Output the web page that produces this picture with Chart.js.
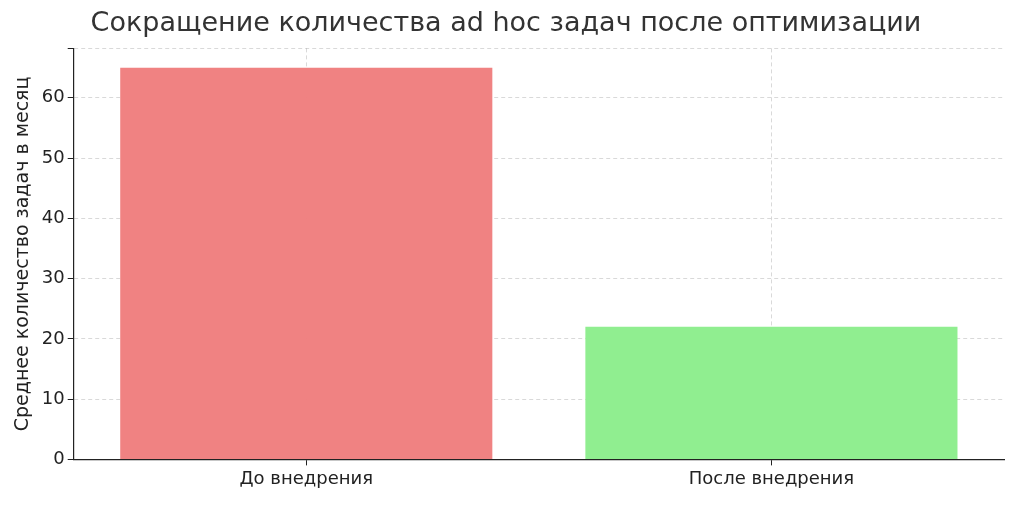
<!DOCTYPE html>
<html>
<head>
<meta charset="utf-8">
<script src="https://cdn.jsdelivr.net/npm/chart.js@4"></script>
<style>
	body { margin: 0; background: #fff; }
	canvas { display: block; }
</style>
</head>
<body>
<canvas id="chart" width="1024" height="509"></canvas>
<script>
var categories = ["До внедрения", "После внедрения"];
var task_values = [65, 22];
var bar_colors = ["rgba(240,128,128,0.98)", "rgba(144,238,144,1)"];

var grid_style = {
	color: "rgba(0,0,0,0.15)",
	lineWidth: 1,
	tickColor: "#222",
	tickLength: 6
};

new Chart(document.getElementById("chart").getContext("2d"), {
	type: "bar",
	data: {
		labels: categories,
		datasets: [{
			data: task_values,
			backgroundColor: bar_colors,
			barPercentage: 0.8,
			categoryPercentage: 1
		}]
	},
	options: {
		responsive: false,
		animation: false,
		layout: { padding: { top: 0, right: 20, left: 8, bottom: 16 } },
		plugins: {
			legend: { display: false },
			tooltip: { enabled: false },
			title: {
				display: true,
				text: "Сокращение количества ad hoc задач после оптимизации",
				color: "#333",
				font: { family: "DejaVu Sans", size: 27, weight: "normal" },
				padding: { top: 8, bottom: 8 }
			}
		},
		scales: {
			x: {
				offset: true,
				grid: Object.assign({ offset: false }, grid_style),
				border: { display: true, color: "#222", dash: [4, 3], width: 1.2 },
				ticks: { color: "#222", font: { family: "DejaVu Sans", size: 18 } }
			},
			y: {
				min: 0,
				max: 68.2,
				grid: grid_style,
				border: { display: true, color: "#222", dash: [4, 3], width: 1.2 },
				ticks: {
					stepSize: 10,
					color: "#222",
					font: { family: "DejaVu Sans", size: 18 },
					callback: function (v) { return v % 10 === 0 ? v : ""; }
				},
				title: {
					display: true,
					text: "Среднее количество задач в месяц",
					color: "#222",
					font: { family: "DejaVu Sans", size: 19 }
				}
			}
		}
	}
});
</script>
</body>
</html>
